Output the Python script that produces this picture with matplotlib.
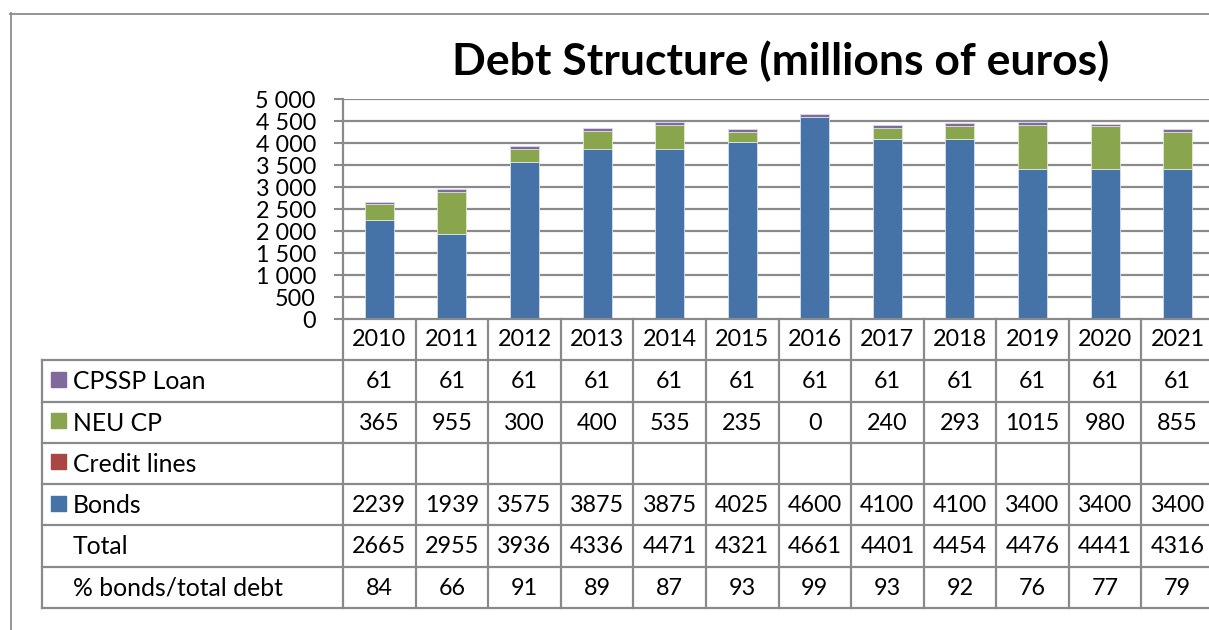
import numpy as np
import matplotlib
matplotlib.use("Agg")
import matplotlib.pyplot as plt
from matplotlib.lines import Line2D
from matplotlib.patches import Rectangle

plt.rcParams['font.family'] = ['Lato', 'DejaVu Sans']

# data
years = ['2010', '2011', '2012', '2013', '2014', '2015', '2016', '2017', '2018', '2019', '2020', '2021']
cpssp_loan = [61, 61, 61, 61, 61, 61, 61, 61, 61, 61, 61, 61]
neu_cp = [365, 955, 300, 400, 535, 235, 0, 240, 293, 1015, 980, 855]
credit_lines = [None] * 12
bonds = [2239, 1939, 3575, 3875, 3875, 4025, 4600, 4100, 4100, 3400, 3400, 3400]
total = [2665, 2955, 3936, 4336, 4471, 4321, 4661, 4401, 4454, 4476, 4441, 4316]
pct_bonds = [84, 66, 91, 89, 87, 93, 99, 93, 92, 76, 77, 79]

c_bonds = '#4572A7'
c_credit = '#AA4643'
c_neu = '#89A54E'
c_cpssp = '#80699B'
grid_c = '#8a8a8a'

W, H = 1209, 630
fig = plt.figure(figsize=(W / 100, H / 100), dpi=100)

# plot area, in pixels
px_left, px_right, px_top, px_bottom = 343, 1214, 99, 319
col_px = (px_right - px_left) / len(years)
tab_left, tab_bottom = 42, 608

ax = fig.add_axes([px_left / W, 1 - px_bottom / H, (px_right - px_left) / W, (px_bottom - px_top) / H])
x = np.arange(len(years))
bw = 0.4
credit_vals = np.array([0 if v is None else v for v in credit_lines], dtype=float)
b1 = np.array(bonds, dtype=float)
b2 = b1 + credit_vals
b3 = b2 + np.array(neu_cp)
ax.bar(x, bonds, bw, color=c_bonds, edgecolor='#d9e0ec', linewidth=0.6, zorder=3)
ax.bar(x, neu_cp, bw, bottom=b2, color=c_neu, edgecolor='#e4ead8', linewidth=0.6, zorder=3)
ax.bar(x, cpssp_loan, bw, bottom=b3, color=c_cpssp, edgecolor='#e0dbe8', linewidth=0.6, zorder=3)

ax.set_xlim(-0.5, len(years) - 0.5)
ax.set_ylim(0, 5000)
yt = np.arange(0, 5001, 500)
ax.set_yticks(yt)
ax.set_yticklabels([f"{v:,}".replace(",", " ") for v in yt], fontsize=16.8)
ax.set_xticks([])
ax.tick_params(axis='y', length=6.5, width=1.5, color=grid_c, pad=13, labelcolor='black')
for v in yt[1:]:
    ax.axhline(v, color=grid_c, lw=1.6, zorder=1)
for s in ['top', 'right', 'bottom']:
    ax.spines[s].set_visible(False)
ax.spines['left'].set_color(grid_c)
ax.spines['left'].set_linewidth(1.6)
ax.patch.set_alpha(0)

# data table under the bars
n_rows = 7
lab_w = (px_left - tab_left) / col_px
tx = fig.add_axes([tab_left / W, 1 - tab_bottom / H, (px_right - tab_left) / W, (tab_bottom - px_bottom) / H])
tx.set_xlim(-0.5 - lab_w, len(years) - 0.5)
tx.set_ylim(n_rows, 0)
tx.axis('off')
tx.patch.set_alpha(0)

lw = 1.6
tx.plot([-0.5, len(years) - 0.5], [0, 0], color=grid_c, lw=lw, clip_on=False)
for r in range(1, n_rows + 1):
    tx.plot([-0.5 - lab_w, len(years) - 0.5], [r, r], color=grid_c, lw=lw, clip_on=False)
for k in range(len(years) + 1):
    tx.plot([k - 0.5, k - 0.5], [0, n_rows], color=grid_c, lw=lw, clip_on=False)
tx.plot([-0.5 - lab_w, -0.5 - lab_w], [1, n_rows], color=grid_c, lw=lw, clip_on=False)

fs = 16.8
fs_lab = 17.8
for i, yr in enumerate(years):
    tx.text(i, 0.5, yr, ha='center', va='center', fontsize=fs)

rows = [
    ('CPSSP Loan', c_cpssp, cpssp_loan),
    ('NEU CP', c_neu, neu_cp),
    ('Credit lines', c_credit, credit_lines),
    ('Bonds', c_bonds, bonds),
    ('Total', None, total),
    ('% bonds/total debt', None, pct_bonds),
]
row_px = (tab_bottom - px_bottom) / n_rows
sq_w = 15 / col_px
sq_h = 15 / row_px
text_x = -0.5 - lab_w + (73 - tab_left) / col_px
sq_x = -0.5 - lab_w + (51 - tab_left) / col_px
for j, (name, col, vals) in enumerate(rows):
    yc = j + 1.5
    if col is not None:
        tx.add_patch(Rectangle((sq_x, yc - 0.04 - sq_h / 2), sq_w, sq_h, color=col, clip_on=False))
    tx.text(text_x, yc + 0.02, name, ha='left', va='center', fontsize=fs_lab)
    for i, v in enumerate(vals):
        if v is not None:
            tx.text(i, yc + 0.02, str(v), ha='center', va='center', fontsize=fs)

fig.text(781 / W, 1 - 61 / H, 'Debt Structure (millions of euros)', ha='center', va='center',
         fontsize=32, fontweight='bold')

# chart frame
fig.add_artist(Line2D([10.5 / W, 10.5 / W], [0, 1 - 13 / H], color='#8c8c8c', lw=1.3))
fig.add_artist(Line2D([10 / W, 1], [1 - 13.5 / H, 1 - 13.5 / H], color='#8c8c8c', lw=1.3))

fig.savefig('out.png', dpi=100)
